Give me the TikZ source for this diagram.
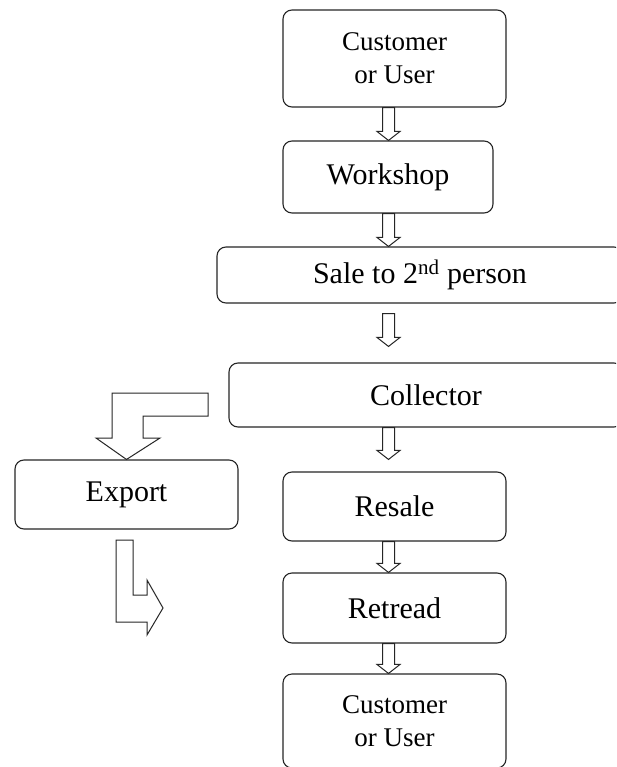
\documentclass[tikz,border=0pt]{standalone}
\usepackage{fontspec}
\setmainfont{Liberation Serif}
\usetikzlibrary{calc}
\tikzset{
  box/.style={draw=black!85, line width=1.1pt, rounded corners=9pt, inner sep=0pt, align=center, font=\fontsize{30}{33}\selectfont},
  cbox/.style={box, font=\fontsize{27}{33}\selectfont},
  hollow/.style={draw=black!85, line width=1.0pt, fill=white, line join=miter},
}
\newcommand\harrow[4]{%
  \draw[hollow] let \p1=($(#1 -| axis)+(0,#3)$), \p2=($(#2 -| axis)+(0,-#4)$) in
    ({\x1-6pt},{\y1}) -- ({\x1+6pt},{\y1}) -- ({\x1+6pt},{\y2+9pt}) -- ({\x1+11.5pt},{\y2+9pt})
    -- ({\x1},{\y2}) -- ({\x1-11.5pt},{\y2+9pt}) -- ({\x1-6pt},{\y2+9pt}) -- cycle;}
\begin{document}
\begin{tikzpicture}[x=1pt,y=-1pt]
\clip (0,0) rectangle (616,767);
\fill[white] (0,0) rectangle (616,767);
\coordinate (axis) at (388.5,0);
\node[cbox, minimum width=223pt, minimum height=97pt] (c1) at (394.5,58.5) {Customer\\or User};
\node[box, minimum width=210pt, minimum height=72pt] (ws) at (388,177) {Workshop};
\node[box, minimum width=406pt, minimum height=56pt] (sale) at (420,275) {Sale to 2\textsuperscript{nd} person};
\node[box, minimum width=394pt, minimum height=64pt] (coll) at (426,395) {Collector};
\node[box, minimum width=223pt, minimum height=69pt] (resale) at (394.5,506.5) {Resale};
\node[box, minimum width=223pt, minimum height=70pt] (retread) at (394.5,608) {Retread};
\node[cbox, minimum width=223pt, minimum height=94pt] (c2) at (394.5,721) {Customer\\or User};
\node[box, minimum width=223pt, minimum height=69pt] (export) at (126.5,494.5) {Export};
\harrow{c1.south}{ws.north}{0}{0}
\harrow{ws.south}{sale.north}{0}{0}
\harrow{sale.south}{coll.north}{10}{16}
\harrow{coll.south}{resale.north}{0}{12}
\harrow{resale.south}{retread.north}{0}{0}
\harrow{retread.south}{c2.north}{0}{0}
% bent arrow from Collector to Export
\draw[hollow] (208,393) -- (112,393) -- (112,438) -- (96,438) -- (export.north) -- (160,438)
  -- (143,438) -- (143,416) -- (208,416) -- cycle;
% bent arrow out of Export
\draw[hollow] (116,540) -- (133,540) -- (133,595) -- (147,595) -- (147,580) -- (163,608)
  -- (147,635) -- (147,622) -- (116,622) -- cycle;
\end{tikzpicture}
\end{document}
